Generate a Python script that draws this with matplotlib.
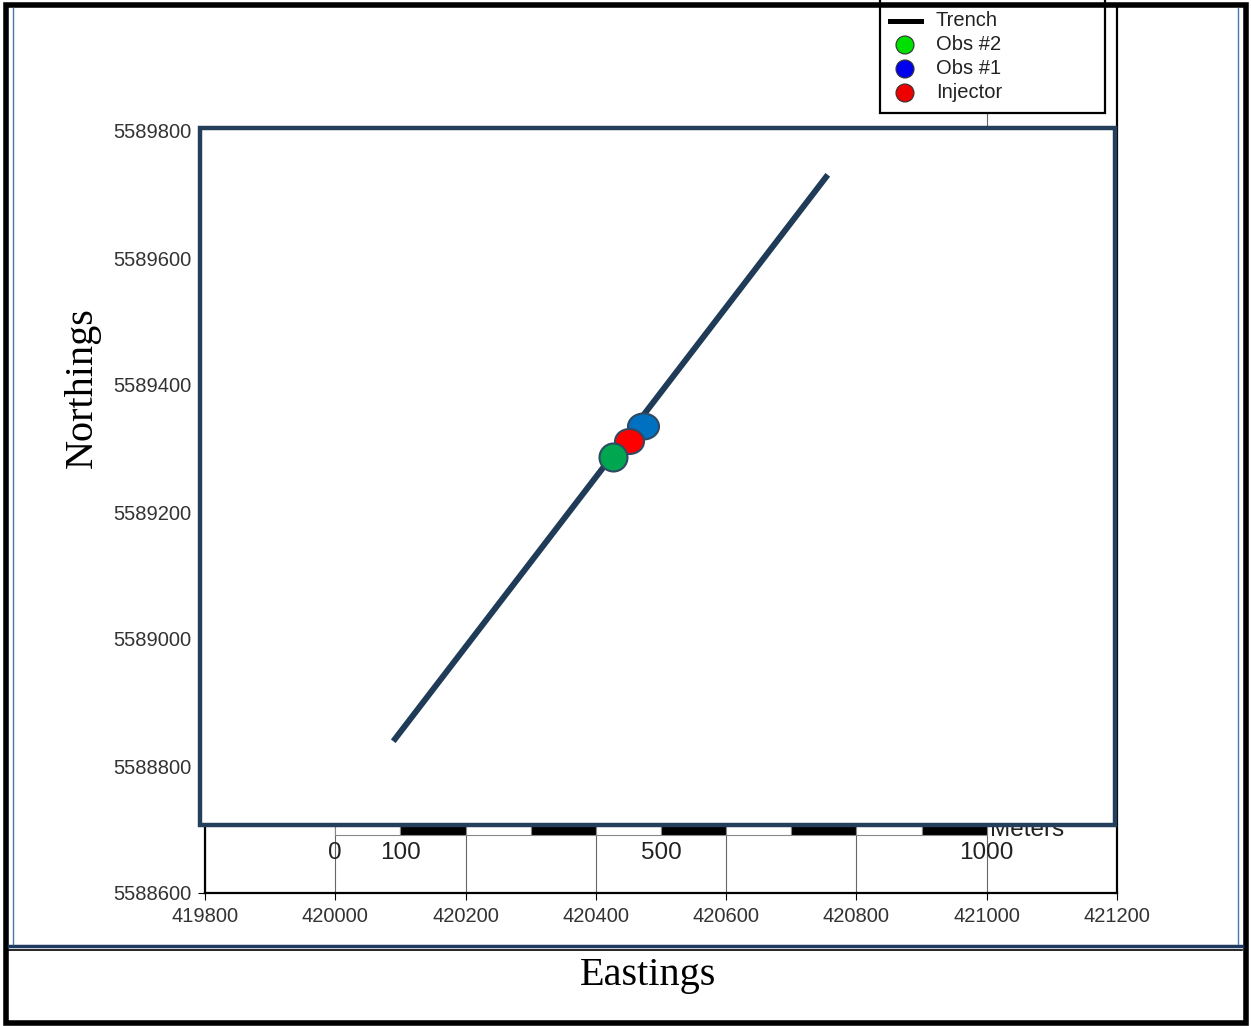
import numpy as np
import matplotlib.pyplot as plt
import matplotlib.transforms as mtransforms
from matplotlib.patches import Rectangle, Circle
from matplotlib.path import Path

# map data (UTM metres)
trench_x = [420089, 420756]
trench_y = [5588839, 5589731]
wells = ['Obs #1', 'Injector', 'Obs #2']          # drawn in this order
well_x = [420472, 420451, 420426]
well_y = [5589335, 5589312, 5589287]
well_colors = ['#0070C0', '#FF0000', '#00A650']
well_w = [31, 29, 28]      # marker width, px
well_h = [26, 25, 28]      # marker height, px

xticks = [419800, 420000, 420200, 420400, 420600, 420800, 421000, 421200]
yticks = [5588600, 5588800, 5589000, 5589200, 5589400, 5589600, 5589800]

scale_origin = 420000
scale_labels = [0, 100, 500, 1000]

legend_labels = ['Trench', 'Obs #2', 'Obs #1', 'Injector']
legend_colors = ['black', '#00E000', '#0000EE', '#EE0000']

W, H = 1251, 1026
fig = plt.figure(figsize=(W / 100, H / 100), dpi=100)
px = mtransforms.Affine2D().scale(1 / W, -1 / H).translate(0, 1) + fig.transFigure

plt.rcParams['font.family'] = ['Liberation Sans', 'DejaVu Sans']
navy = '#243F5B'

# map axes, placed in pixels
left, right, bottom, top = 205, 1117, 893, 8
ax = fig.add_axes([left / W, 1 - bottom / H, (right - left) / W, (bottom - top) / H])
ax.set_xlim(419800, 421200)
ax.set_ylim(5588600, 5588600 + (bottom - top) * 1200 / 762)
ax.set_xticks(xticks)
ax.set_yticks(yticks)
ax.ticklabel_format(useOffset=False, style='plain')
ax.tick_params(direction='out', length=5, width=0.8, labelsize=14.5, pad=5,
               labelcolor='#333333')
ax.spines['top'].set_visible(False)
ax.spines['left'].set_bounds(5588600, 5589800)
for s in ['left', 'bottom', 'right']:
    ax.spines[s].set_linewidth(1.6)
ax.xaxis.grid(True, color='#666666', lw=0.8)
ax.set_axisbelow(True)

# scale bar
for i in range(10):
    x0 = scale_origin + i * 100
    fc = 'black' if i % 2 else 'white'
    ax.add_patch(Rectangle((x0, 5588692), 100, 22, facecolor=fc,
                           edgecolor='#888888', lw=0.8, zorder=2))
for m in scale_labels:
    ax.text(scale_origin + m, 5588663, str(m), ha='center', va='center',
            fontsize=17.5, color='#222222', zorder=2)
ax.text(421005, 5588699, 'Meters', ha='left', va='center', fontsize=17.5,
        color='#222222', zorder=2)

# white patch over the top of the map
ax.add_patch(Rectangle((194, 8), 672, 122, transform=px, facecolor='white',
                       edgecolor='none', clip_on=False, zorder=4))

# overlay box
ax.add_patch(Rectangle((200, 128), 915, 697, transform=px, facecolor='white',
                       edgecolor=navy, lw=3.2, clip_on=False, zorder=5))

# trench and wells
ax.plot(trench_x, trench_y, color='#1F3B57', lw=4.3, solid_capstyle='butt', zorder=6)
circ = Path.unit_circle()
for name, x, y, c, w, h in zip(wells, well_x, well_y, well_colors, well_w, well_h):
    m = circ.transformed(mtransforms.Affine2D().scale(w / max(w, h), h / max(w, h)))
    ax.plot([x], [y], marker=m, ms=max(w, h) * 0.72, color=c,
            mec='#2F4B63', mew=1.5, ls='none', zorder=7)

# legend box
ax.add_patch(Rectangle((880, -5), 225, 118, transform=px, facecolor='white',
                       edgecolor='black', lw=1.6, clip_on=False, zorder=5))
for i, (lab, c) in enumerate(zip(legend_labels, legend_colors)):
    yy = 21 + 24 * i
    if i == 0:
        ax.plot([890, 921], [yy, yy], transform=px, color=c, lw=3.6,
                clip_on=False, zorder=6)
    else:
        ax.add_patch(Circle((905, yy), 9, transform=px, facecolor=c,
                            edgecolor='#333333', lw=0.8, clip_on=False, zorder=6))
    ax.text(936, yy, lab, transform=px, ha='left', va='center', fontsize=14.5,
            color='#222222', zorder=6, clip_on=False)

# outer frame
fig.add_artist(Rectangle((6, 5), 1240, 1018, transform=px, fill=False,
                         edgecolor='black', lw=4))
fig.add_artist(plt.Line2D([9, 1242], [946, 946], transform=px, color='#1F3A60', lw=2.5))
fig.add_artist(plt.Line2D([9, 1242], [950, 950], transform=px, color='black', lw=1.2))
fig.add_artist(plt.Line2D([13, 13], [8, 944], transform=px, color='#4A78A8', lw=1))
fig.add_artist(plt.Line2D([1238, 1238], [8, 944], transform=px, color='#4A78A8', lw=1))

fig.text(82 / W, 1 - 388 / H, 'Northings', rotation=90, ha='center', va='center',
         fontsize=29, family='Liberation Serif')
fig.text(648 / W, 1 - 975 / H, 'Eastings', ha='center', va='center',
         fontsize=29, family='Liberation Serif')

fig.savefig('out.png', dpi=100)
